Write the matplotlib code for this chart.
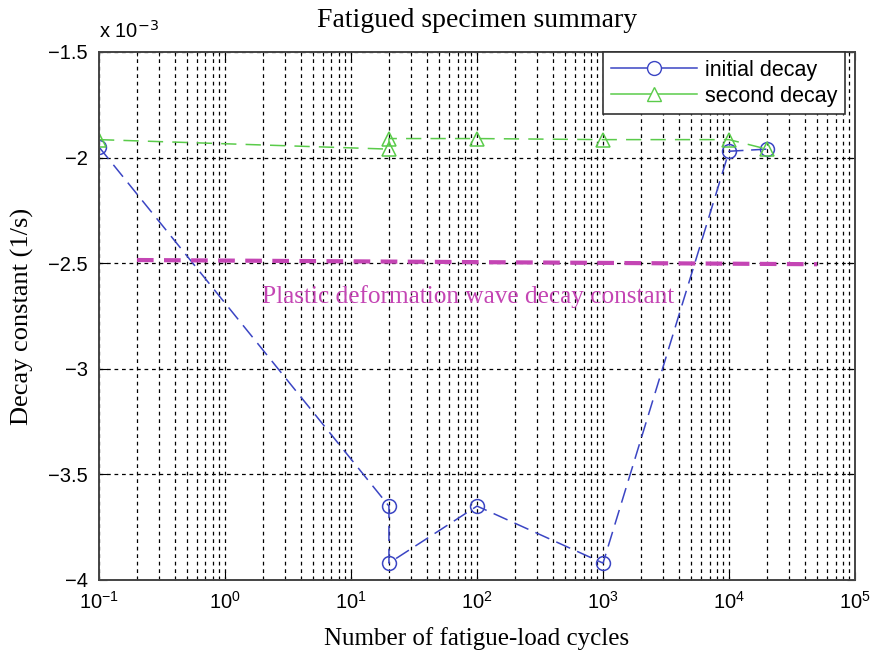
import numpy as np
import matplotlib.pyplot as plt
from matplotlib.ticker import FuncFormatter, LogLocator, FixedLocator, NullFormatter, LogFormatterSciNotation
from matplotlib.lines import Line2D

# data (decay constants in 1/s)
cycles_initial = [0.1, 20, 20, 100, 1000, 1e4, 2e4]
decay_initial = [-1.95e-3, -3.65e-3, -3.92e-3, -3.65e-3, -3.92e-3, -1.97e-3, -1.96e-3]

cycles_second = [0.1, 20, 20, 100, 1000, 1e4, 2e4]
decay_second = [-1.915e-3, -1.96e-3, -1.91e-3, -1.91e-3, -1.915e-3, -1.915e-3, -1.96e-3]

plastic_x = [0.2, 5e4]
plastic_y = [-2.485e-3, -2.505e-3]

x_ticks = [1e-1, 1e0, 1e1, 1e2, 1e3, 1e4, 1e5]
y_ticks = [-4e-3, -3.5e-3, -3e-3, -2.5e-3, -2e-3, -1.5e-3]

serif = ['Liberation Serif', 'DejaVu Serif']
sans = ['Liberation Sans', 'DejaVu Sans']

fig = plt.figure(figsize=(8.87, 6.57), dpi=100)
ax = fig.add_axes([0.1116, 0.1172, 0.8524, 0.8037])

blue = '#3b45c4'
green = '#5acb4a'
magenta = '#c445b4'

ax.plot(cycles_initial, decay_initial, color=blue, lw=1.1, dashes=(10, 5),
        marker='o', ms=10, mfc='none', mec=blue, mew=1.1)
ax.plot(cycles_second, decay_second, color=green, lw=1.1, dashes=(10, 6),
        marker='^', ms=10, mfc='none', mec=green, mew=1.1)
ax.plot(plastic_x, plastic_y, color=magenta, lw=3, dashes=(4, 2.5))

ax.text(85, -2.66e-3, 'Plastic deformation wave decay constant', color=magenta,
        family=serif, fontsize=18.2, ha='center', va='center')

ax.set_xscale('log')
ax.set_xlim(0.1, 1e5)
ax.set_ylim(-4e-3, -1.5e-3)
ax.yaxis.set_major_locator(FixedLocator(y_ticks))
ax.yaxis.set_major_formatter(FuncFormatter(lambda v, p: ('%g' % round(v * 1e3, 2)).replace('-', '\u2212')))
ax.xaxis.set_major_locator(FixedLocator(x_ticks))
ax.xaxis.set_major_formatter(LogFormatterSciNotation())
ax.xaxis.set_minor_locator(LogLocator(base=10, subs=np.arange(2, 10), numticks=20))
ax.xaxis.set_minor_formatter(NullFormatter())

ax.grid(True, which='major', color='black', ls=(0, (3, 3)), lw=0.9)
ax.grid(True, which='minor', axis='x', color='black', ls=(0, (3, 3)), lw=0.9)

ax.tick_params(which='both', direction='in', top=True, right=True)
ax.tick_params(which='major', length=6, labelsize=14.5, pad=8)
ax.tick_params(which='minor', length=3)
for lab in ax.get_xticklabels() + ax.get_yticklabels():
    lab.set_family(sans)
for s in ax.spines.values():
    s.set_color('#444444')
    s.set_linewidth(1.4)

ax.text(0.0, 1.02, 'x 10$^{\u22123}$', transform=ax.transAxes, family=sans,
        fontsize=14.5, ha='left', va='bottom')

ax.set_title('Fatigued specimen summary', family=serif, fontsize=20, pad=18)
ax.set_xlabel('Number of fatigue-load cycles', family=serif, fontsize=18, labelpad=10)
ax.set_ylabel('Decay constant (1/s)', family=serif, fontsize=19, labelpad=10)

handles = [Line2D([], [], color=blue, lw=1.1, marker='o', ms=10, mfc='white', mec=blue),
           Line2D([], [], color=green, lw=1.1, marker='^', ms=10, mfc='white', mec=green)]
leg = ax.legend(handles, ['initial decay', 'second decay'], loc='upper right',
                bbox_to_anchor=(0.987, 1.0), borderaxespad=0,
                prop={'family': sans, 'size': 15.5},
                fancybox=False, framealpha=1, edgecolor='#333333',
                handlelength=4, handletextpad=0.4, borderpad=0.35, labelspacing=0.25)
leg.get_frame().set_linewidth(1.2)

fig.savefig('out.png', dpi=100)
